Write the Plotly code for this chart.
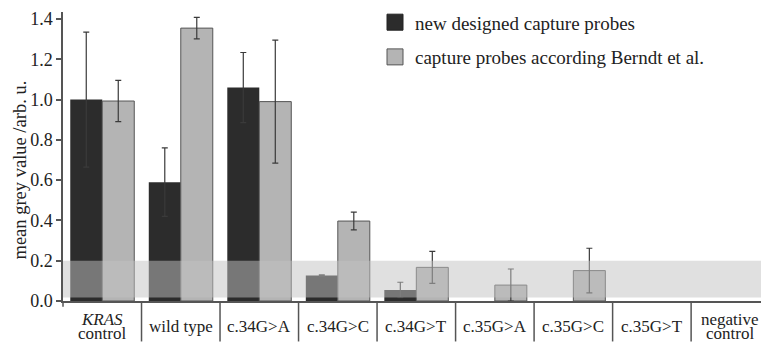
import plotly.graph_objects as go

categories = ["KRAS control", "wild type", "c.34G>A", "c.34G>C", "c.34G>T",
              "c.35G>A", "c.35G>C", "c.35G>T", "negative control"]
new_probes = [1.00, 0.59, 1.06, 0.127, 0.055, None, None, None, None]
new_err = [0.335, 0.17, 0.174, 0.003, 0.038, None, None, None, None]
berndt_probes = [0.993, 1.355, 0.99, 0.397, 0.167, 0.079, 0.151, None, None]
berndt_err = [0.102, 0.053, 0.305, 0.044, 0.079, 0.08, 0.111, None, None]
y_ticks = [0.0, 0.2, 0.4, 0.6, 0.8, 1.0, 1.2, 1.4]
threshold = [0.017, 0.2]
legend_names = ["new designed capture probes", "capture probes according Berndt et al."]

FONT = "Liberation Serif"
DARK = "#2c2c2c"
LIGHT = "#b4b4b4"
TXT = "#222222"

x = list(range(len(categories)))

fig = go.Figure()
fig.add_trace(go.Bar(
    x=x, y=new_probes, name=legend_names[0], showlegend=False,
    marker=dict(color=DARK, line=dict(width=0)),
    error_y=dict(type="data", array=new_err, color="#3a3a3a", thickness=1.2, width=3),
))
fig.add_trace(go.Bar(
    x=x, y=berndt_probes, name=legend_names[1], showlegend=False,
    marker=dict(color=LIGHT, line=dict(color="#555555", width=1)),
    error_y=dict(type="data", array=berndt_err, color="#3a3a3a", thickness=1.2, width=3),
))
# legend entries
fig.add_trace(go.Scatter(x=[None], y=[None], mode="markers", name=legend_names[0],
                         legendgroup="a",
                         marker=dict(symbol="square", size=16, color=DARK,
                                     line=dict(color="#222222", width=1))))
fig.add_trace(go.Scatter(x=[None], y=[None], mode="markers", name=legend_names[1],
                         legendgroup="b",
                         marker=dict(symbol="square", size=16, color=LIGHT,
                                     line=dict(color="#555555", width=1))))

shapes = []
# translucent threshold band
shapes.append(dict(type="rect", xref="paper", yref="y", x0=0, x1=1,
                   y0=threshold[0], y1=threshold[1],
                   fillcolor="rgba(194,194,194,0.5)", line=dict(width=0), layer="above"))
# category separators below the axis
for i in range(len(categories) - 1):
    shapes.append(dict(type="line", xref="x", yref="paper", x0=i + 0.5, x1=i + 0.5,
                       y0=0, y1=-0.14, line=dict(color="#555555", width=1.5)))
shapes.append(dict(type="line", xref="paper", yref="paper", x0=0, x1=0,
                   y0=0, y1=-0.02, line=dict(color="#555555", width=1.5)))

annotations = []
def label(xv, text, shift):
    annotations.append(dict(x=xv, y=0, xref="x", yref="paper", yshift=shift,
                            text=text, showarrow=False,
                            font=dict(family=FONT, size=17, color=TXT), yanchor="middle"))

for i, c in enumerate(categories):
    if c == "KRAS control":
        label(i, "<i>KRAS</i>", -18.5)
        label(i, "control", -32.5)
    elif c == "negative control":
        label(i, "negative", -18.5)
        label(i, "control", -32.5)
    else:
        label(i, c, -25)
annotations.append(dict(x=-0.061, y=0.453, xref="paper", yref="paper",
                        text="mean grey value /arb. u.", textangle=-90, showarrow=False,
                        font=dict(family=FONT, size=18.5, color=TXT),
                        xanchor="center", yanchor="middle"))

fig.update_layout(
    width=761, height=347,
    margin=dict(l=63, r=0, t=12, b=46),
    paper_bgcolor="white", plot_bgcolor="white",
    barmode="group", bargap=0.185, bargroupgap=0,
    font=dict(family=FONT, size=17, color=TXT),
    showlegend=True,
    legend=dict(x=0.447, y=1.03, xanchor="left", yanchor="top",
                font=dict(family=FONT, size=19, color=TXT),
                bgcolor="rgba(0,0,0,0)", tracegroupgap=7, traceorder="grouped",
                itemsizing="trace"),
    shapes=shapes, annotations=annotations,
)
fig.update_xaxes(range=[-0.5, 8.39], showticklabels=False, ticks="",
                 showline=True, linecolor="#555555", linewidth=2,
                 showgrid=False, zeroline=False)
fig.update_yaxes(range=[0, 1.435], tickvals=y_ticks,
                 ticktext=[f"{v:.1f}" for v in y_ticks],
                 ticks="outside", ticklen=5, tickcolor="#555555", tickwidth=1.5,
                 tickfont=dict(family=FONT, size=18, color=TXT),
                 showline=True, linecolor="#555555", linewidth=1.5,
                 showgrid=False, zeroline=False)

fig.write_html("out.html", config={"displayModeBar": False},
               post_script="document.body.style.margin='0';")
